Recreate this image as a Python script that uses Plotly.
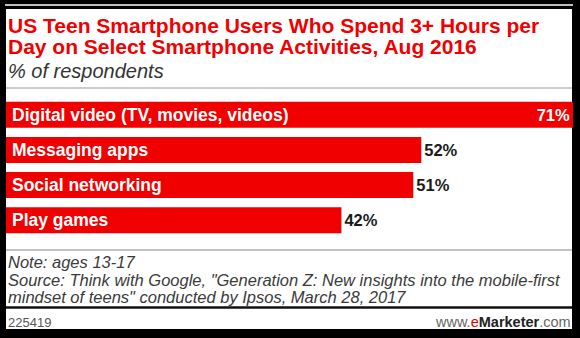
import plotly.graph_objects as go

W, H = 580, 338

categories = ["Digital video (TV, movies, videos)", "Messaging apps", "Social networking", "Play games"]
values = [71, 52, 51, 42]

title_lines = ["US Teen Smartphone Users Who Spend 3+ Hours per",
               "Day on Select Smartphone Activities, Aug 2016"]
subtitle = "% of respondents"
note = "Note: ages 13-17"
source_lines = ["Source: Think with Google, \"Generation Z: New insights into the mobile-first",
                "mindset of teens\" conducted by Ipsos, March 28, 2017"]
chart_id = "225419"

RED = "#f00000"
FONT = "Liberation Sans"


def px(x):
    return x / W


def py(y):
    return 1 - y / H


labels = [f"{v}%" for v in values]
text_pos = ["inside" if v == max(values) else "outside" for v in values]
text_col = ["white" if v == max(values) else "#1a1a1a" for v in values]

fig = go.Figure()
fig.add_trace(go.Bar(
    x=values, y=categories, orientation="h",
    marker=dict(color=RED, line=dict(width=0)),
    text=labels, textposition=text_pos, insidetextanchor="end",
    textfont=dict(family=FONT, size=16.5, color=text_col, weight="bold"),
    outsidetextfont=dict(family=FONT, size=16.5, color="#1a1a1a", weight="bold"),
    insidetextfont=dict(family=FONT, size=16.5, color="white", weight="bold"),
    cliponaxis=False, hoverinfo="skip",
))

annotations = []
for c in categories:
    annotations.append(dict(x=0, y=c, xref="x", yref="y", text=c, showarrow=False,
                            xanchor="left", yanchor="middle", xshift=4,
                            font=dict(family=FONT, size=17.5, color="white", weight="bold")))

def add_text(text, x, y, size, color, anchor="left", italic=False, bold=False):
    annotations.append(dict(x=px(x), y=py(y), xref="paper", yref="paper", text=text,
                            showarrow=False, xanchor=anchor, yanchor="middle",
                            font=dict(family=FONT, size=size, color=color,
                                      style="italic" if italic else "normal",
                                      weight="bold" if bold else "normal")))

add_text(title_lines[0], 6, 26, 21, RED, bold=True)
add_text(title_lines[1], 6, 46, 21, RED, bold=True)
add_text(subtitle, 6, 70.5, 20, "#333333", italic=True)
add_text(note, 6, 262, 16.5, "#3a3a3a", italic=True)
add_text(source_lines[0], 6, 279.5, 16.5, "#3a3a3a", italic=True)
add_text(source_lines[1], 6, 296.5, 16.5, "#3a3a3a", italic=True)
add_text(chart_id, 6, 322, 13, "#555555")
add_text("<span style='color:#666666'>www.</span><span style='color:#e00000'>e</span>"
         "<b>Marketer</b><span style='color:#666666'>.com</span>",
         573, 322, 14.5, "#222222", anchor="right")

shapes = [
    dict(type="rect", xref="paper", yref="paper", x0=px(6), x1=px(572), y0=py(329), y1=py(9),
         fillcolor="white", line=dict(width=0), layer="below"),
    dict(type="line", xref="paper", yref="paper", x0=px(5), x1=px(573), y0=py(5), y1=py(5),
         line=dict(color="white", width=1.5)),
    dict(type="line", xref="paper", yref="paper", x0=px(6), x1=px(572), y0=py(88), y1=py(88),
         line=dict(color="#999999", width=1.2)),
    dict(type="line", xref="paper", yref="paper", x0=px(6), x1=px(572), y0=py(250), y1=py(250),
         line=dict(color="#888888", width=1.2)),
    dict(type="line", xref="paper", yref="paper", x0=px(6), x1=px(572), y0=py(307.5), y1=py(307.5),
         line=dict(color="#111111", width=2.5)),
]

fig.update_layout(
    width=W, height=H, margin=dict(l=0, r=0, t=0, b=0),
    paper_bgcolor="black", plot_bgcolor="rgba(0,0,0,0)",
    showlegend=False, bargap=0.26,
    xaxis=dict(visible=False, range=[0, 71], domain=[px(6), px(573)], fixedrange=True),
    yaxis=dict(visible=False, autorange=False, range=[3.5, -0.5], type="category",
               domain=[py(237.9), py(97.1)], fixedrange=True),
    annotations=annotations, shapes=shapes,
    uniformtext=dict(mode=False),
)

fig.write_html("out.html")
